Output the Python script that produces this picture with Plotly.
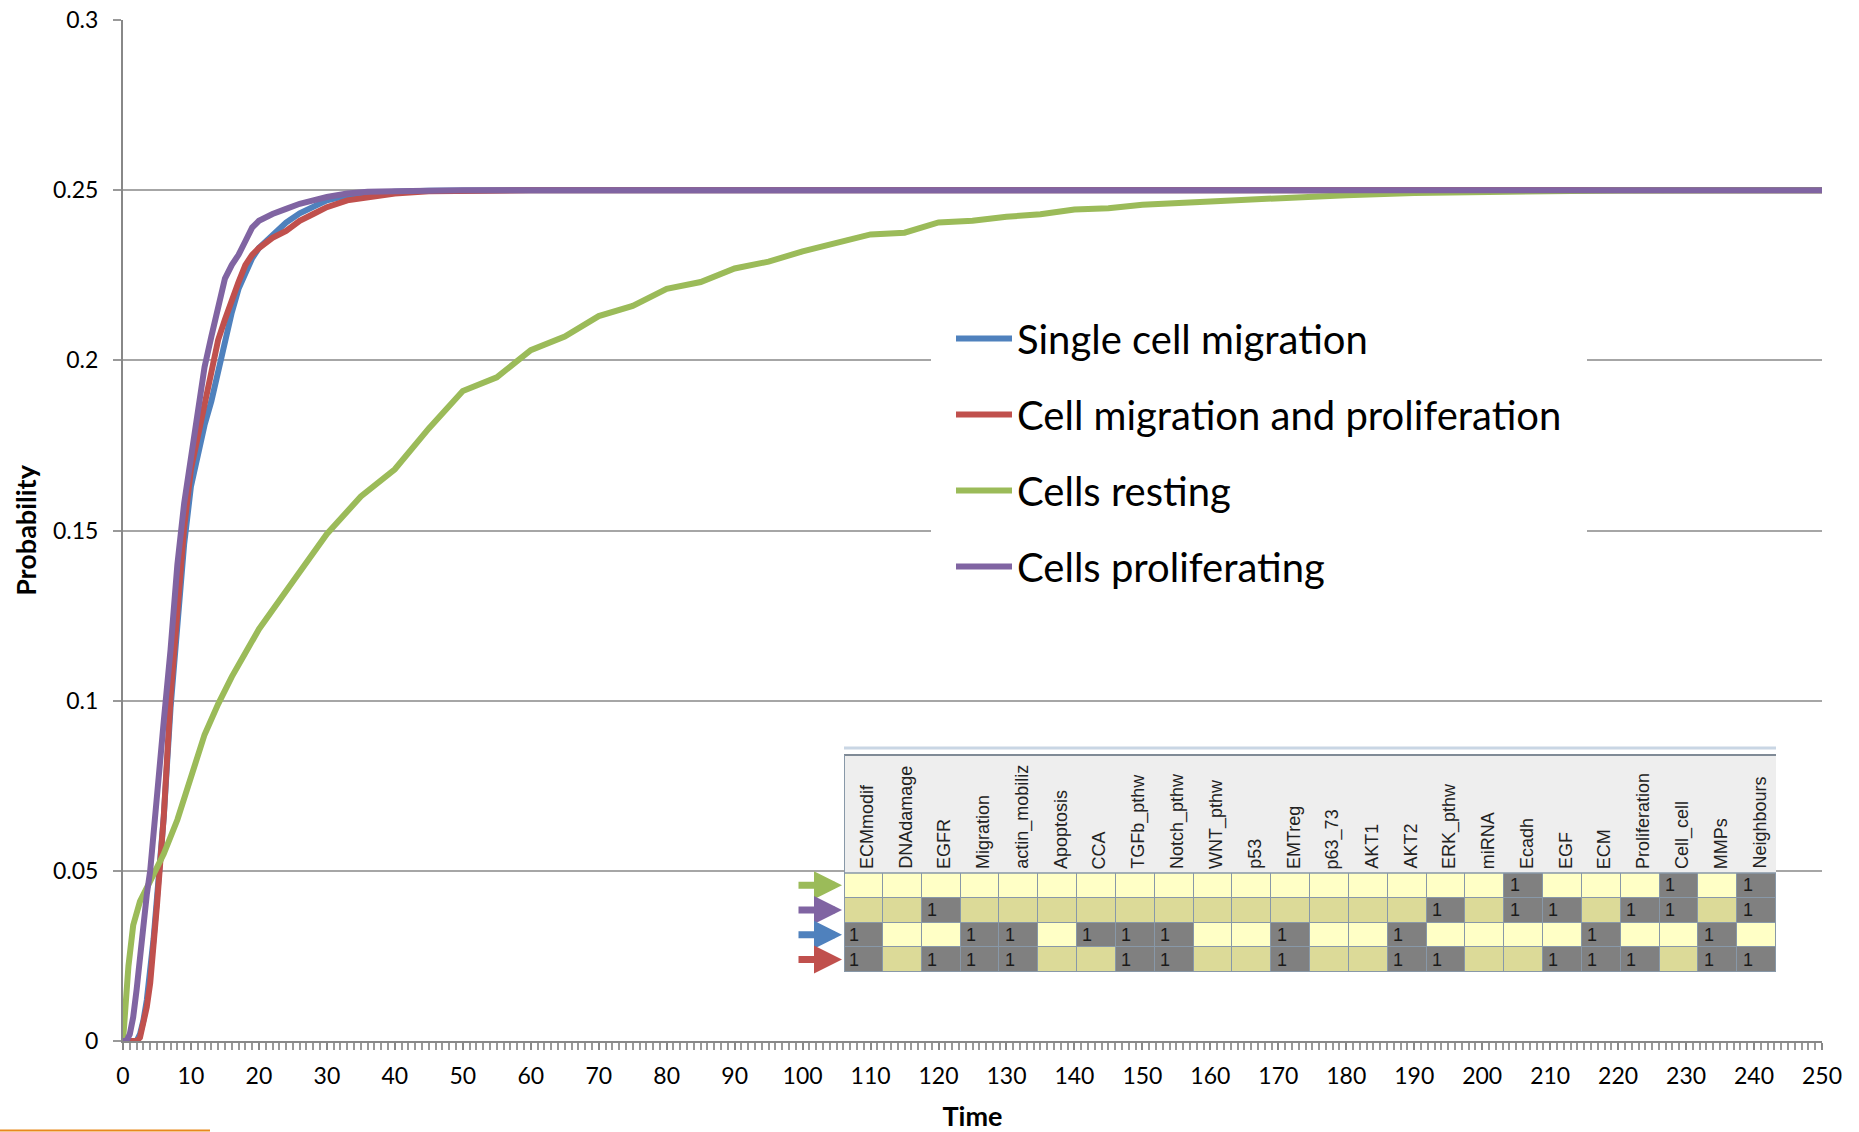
import plotly.graph_objects as go

# ---------------- data ----------------
t_single = [0, 1, 2, 2.5, 3, 3.5, 4, 4.5, 5, 5.5, 6, 7, 8, 9, 10, 11, 12, 13, 14, 15, 16, 17, 18, 19, 20,
            22, 24, 26, 28, 30, 33, 36, 40, 45, 50, 60, 250]
p_single = [0, 0, 0, 0.002, 0.006, 0.012, 0.020, 0.030, 0.042, 0.054, 0.066, 0.098, 0.124, 0.146, 0.163,
            0.173, 0.181, 0.188, 0.197, 0.207, 0.214, 0.221, 0.226, 0.230, 0.233, 0.237, 0.2405, 0.2432,
            0.2453, 0.247, 0.2484, 0.249, 0.2495, 0.2498, 0.2499, 0.25, 0.25]

t_migprol = [0, 1, 2, 2.5, 3, 3.5, 4, 4.5, 5, 5.5, 6, 7, 8, 9, 10, 11, 12, 13, 14, 15, 16, 17, 18, 19, 20,
             22, 24, 26, 28, 30, 33, 36, 40, 45, 50, 60, 250]
p_migprol = [0, 0, 0, 0.001, 0.005, 0.010, 0.017, 0.027, 0.040, 0.053, 0.066, 0.101, 0.127, 0.151, 0.168,
             0.178, 0.186, 0.197, 0.206, 0.212, 0.218, 0.223, 0.228, 0.231, 0.233, 0.236, 0.238, 0.241,
             0.243, 0.245, 0.247, 0.248, 0.249, 0.2497, 0.2499, 0.25, 0.25]

t_resting = [0, 0.4, 0.8, 1.5, 2.5, 4, 6, 8, 10, 12, 14, 16, 18, 20, 25, 30, 35, 40, 45, 50, 55, 60, 65,
             70, 75, 80, 85, 90, 95, 100, 105, 110, 115, 120, 125, 130, 135, 140, 145, 150, 160, 170, 180,
             190, 200, 210, 220, 250]
p_resting = [0, 0.012, 0.022, 0.034, 0.041, 0.047, 0.055, 0.065, 0.078, 0.090, 0.099, 0.107, 0.114, 0.121,
             0.135, 0.149, 0.160, 0.168, 0.180, 0.191, 0.195, 0.203, 0.207, 0.213, 0.216, 0.221, 0.223,
             0.227, 0.229, 0.232, 0.2345, 0.237, 0.2375, 0.2405, 0.241, 0.2422, 0.2429, 0.2443, 0.2447,
             0.2457, 0.2467, 0.2478, 0.2485, 0.2492, 0.2495, 0.2498, 0.2499, 0.25]

t_prolif = [0, 0.5, 1, 1.5, 2, 2.5, 3, 3.5, 4, 5, 6, 7, 8, 9, 10, 11, 12, 13, 14, 15, 16, 17, 18, 19, 20,
            22, 24, 26, 28, 30, 33, 36, 40, 45, 50, 60, 250]
p_prolif = [0, 0, 0.002, 0.007, 0.015, 0.025, 0.036, 0.043, 0.050, 0.070, 0.094, 0.115, 0.140, 0.158,
            0.172, 0.186, 0.198, 0.207, 0.215, 0.224, 0.228, 0.231, 0.235, 0.239, 0.241, 0.243, 0.2445,
            0.246, 0.247, 0.248, 0.249, 0.2495, 0.2497, 0.2499, 0.25, 0.25, 0.25]

series_names = ["Single cell migration", "Cell migration and proliferation", "Cells resting",
                "Cells proliferating"]
series_colors = ["#4F81BD", "#C0504D", "#9BBB59", "#8064A2"]

# inset table
nodes = ["ECMmodif", "DNAdamage", "EGFR", "Migration", "actin_mobiliz", "Apoptosis", "CCA", "TGFb_pthw",
         "Notch_pthw", "WNT_pthw", "p53", "EMTreg", "p63_73", "AKT1", "AKT2", "ERK_pthw", "miRNA", "Ecadh",
         "EGF", "ECM", "Proliferation", "Cell_cell", "MMPs", "Neighbours"]
state_resting = [0, 0, 0, 0, 0, 0, 0, 0, 0, 0, 0, 0, 0, 0, 0, 0, 0, 1, 0, 0, 0, 1, 0, 1]
state_prolif = [0, 0, 1, 0, 0, 0, 0, 0, 0, 0, 0, 0, 0, 0, 0, 1, 0, 1, 1, 0, 1, 1, 0, 1]
state_single = [1, 0, 0, 1, 1, 0, 1, 1, 1, 0, 0, 1, 0, 0, 1, 0, 0, 0, 0, 1, 0, 0, 1, 0]
state_migprol = [1, 0, 1, 1, 1, 0, 0, 1, 1, 0, 0, 1, 0, 0, 1, 1, 0, 0, 1, 1, 1, 0, 1, 1]
table_rows = [state_resting, state_prolif, state_single, state_migprol]
arrow_colors = ["#9BBB59", "#8064A2", "#4F81BD", "#C0504D"]

# ---------------- figure ----------------
FONT = "Lato"
fig = go.Figure()

curves = [(t_single, p_single), (t_migprol, p_migprol), (t_resting, p_resting), (t_prolif, p_prolif)]
for i, ((tt, pp), name, col) in enumerate(zip(curves, series_names, series_colors)):
    fig.add_trace(go.Scatter(x=tt, y=pp, mode="lines", name=name, legendgroup=f"g{i}",
                             line=dict(color=col, width=6), hoverinfo="skip"))

# table heatmap
z = []
for r, row in enumerate(table_rows):
    z.append([2 if v else (r % 2) for v in row])
fig.add_trace(go.Heatmap(
    x=nodes, y=list(range(len(table_rows))), z=z, xaxis="x2", yaxis="y2",
    zmin=0, zmax=2, showscale=False, xgap=1, ygap=1, hoverinfo="skip",
    colorscale=[[0, "#FFFFC6"], [0.333, "#FFFFC6"], [0.334, "#DCDA98"], [0.666, "#DCDA98"],
                [0.667, "#808080"], [1, "#808080"]]))

# plot-area geometry (px)
L, R, T, B = 123, 37, 20, 91
W, H = 1859, 1132
pw, ph = W - L - R, H - T - B
tx0, tx1 = 844, 1776
row_top, row_bot, head_top, dom_top = 873, 972, 755, 745
rh = (row_bot - row_top) / 4
y2_top = -0.5 - (row_top - dom_top) / rh
head_y = -0.5 - (row_top - head_top) / rh

fig.update_layout(
    width=W, height=H,
    margin=dict(l=L, r=R, t=T, b=B, autoexpand=False),
    paper_bgcolor="white", plot_bgcolor="white",
    font=dict(family=FONT, color="black"),
    xaxis=dict(range=[0, 250], tickmode="linear", tick0=0, dtick=10, ticks="outside", ticklen=7,
               tickwidth=2, tickcolor="#888888", showline=True, linecolor="#888888", linewidth=2,
               showgrid=False, zeroline=False, tickfont=dict(size=23, family=FONT),
               ticklabelstandoff=6, automargin=False,
               minor=dict(dtick=1, tick0=0, ticks="outside", ticklen=7, tickwidth=2, tickcolor="#999999",
                          showgrid=False),
               title=dict(text="<b>Time</b>", font=dict(size=27, family=FONT), standoff=21)),
    yaxis=dict(range=[0, 0.3], tickmode="linear", tick0=0, dtick=0.05, ticks="outside", ticklen=8,
               tickwidth=2, tickcolor="#999999", showline=True, linecolor="#888888", linewidth=2,
               showgrid=True, gridcolor="#A6A6A6", gridwidth=2, zeroline=False,
               tickfont=dict(size=23, family=FONT), ticklabelstandoff=10, automargin=False,
               title=dict(text="<b>Probability</b>", font=dict(size=27, family=FONT), standoff=8)),
    xaxis2=dict(domain=[(tx0 - L) / pw, (tx1 - L) / pw], anchor="y2", range=[-0.5, len(nodes) - 0.5],
                visible=False, showgrid=False, fixedrange=True),
    yaxis2=dict(domain=[(H - B - row_bot) / ph, (H - B - dom_top) / ph], anchor="x2",
                range=[3.5, y2_top], visible=False, showgrid=False, fixedrange=True),
    legend=dict(x=(931 - L) / pw, y=(H - B - 286) / ph, xanchor="left", yanchor="top",
                bgcolor="white", font=dict(size=40, family=FONT, color="black"),
                tracegroupgap=21, itemwidth=56, borderwidth=20, bordercolor="white"),
    showlegend=True,
)

shapes = [
    # border colour under the bricks
    dict(type="rect", xref="x2", yref="y2", x0=-0.5, x1=len(nodes) - 0.5, y0=-0.5, y1=3.5,
         fillcolor="#8898A8", line=dict(width=0), layer="below"),
    # header background
    dict(type="rect", xref="x2", yref="y2", x0=-0.5, x1=len(nodes) - 0.5, y0=-0.5, y1=head_y,
         fillcolor="#EEEEEE", line=dict(width=0), layer="below"),
    # header top lines
    dict(type="line", xref="x2", yref="y2", x0=-0.5, x1=len(nodes) - 0.5, y0=head_y, y1=head_y,
         line=dict(color="#7F8A96", width=2), layer="above"),
    dict(type="line", xref="x2", yref="y2", x0=-0.5, x1=len(nodes) - 0.5, y0=head_y - 7 / rh,
         y1=head_y - 7 / rh, line=dict(color="#C9D6E4", width=3), layer="above"),
    # left edge of the table
    dict(type="line", xref="x2", yref="y2", x0=-0.5, x1=-0.5, y0=head_y, y1=3.5,
         line=dict(color="#8898A8", width=2), layer="above"),
    dict(type="rect", xref="x2", yref="y2", x0=-0.5, x1=len(nodes) - 0.5, y0=-0.5, y1=3.5,
         line=dict(color="#8898A8", width=1.5), layer="above"),
    # stray orange rule at the bottom-left of the picture
    dict(type="line", xref="paper", yref="paper", x0=-L / pw, x1=(210 - L) / pw,
         y0=(H - B - 1130.5) / ph, y1=(H - B - 1130.5) / ph, line=dict(color="#E8891C", width=2)),
]
fig.update_layout(shapes=shapes)

annotations = []
for name in nodes:
    annotations.append(dict(xref="x2", yref="y2", x=name, y=-0.5, text=name, showarrow=False,
                            textangle=-90, xanchor="center", yanchor="bottom", xshift=3, yshift=2,
                            font=dict(family="Liberation Sans", size=18, color="#222222")))
for r, row in enumerate(table_rows):
    for c, v in enumerate(row):
        if v:
            annotations.append(dict(xref="x2", yref="y2", x=nodes[c], y=r, text="1", showarrow=False,
                                    xanchor="left", yanchor="middle", xshift=-16,
                                    font=dict(family="Liberation Sans", size=18, color="#1A1A1A")))
    annotations.append(dict(xref="paper", yref="y2", x=(842 - L) / pw, y=r, ax=-45, ay=0, text="",
                            showarrow=True, arrowhead=2, arrowsize=0.8, arrowwidth=7,
                            arrowcolor=arrow_colors[r], standoff=0))
fig.update_layout(annotations=annotations)

fig.write_html("out.html")
